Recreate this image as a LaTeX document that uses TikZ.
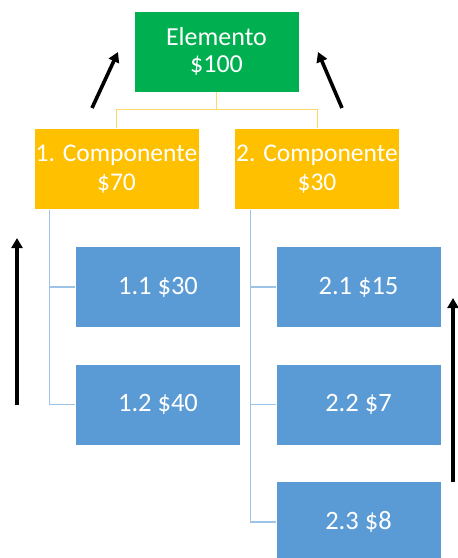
\documentclass[tikz,border=0pt]{standalone}
\usepackage{fontspec}
\setmainfont{Carlito}
\usetikzlibrary{arrows.meta,calc}
\definecolor{topgreen}{HTML}{00B050}
\definecolor{compyellow}{HTML}{FFC000}
\definecolor{itemblue}{HTML}{5B9BD5}
\definecolor{linkyellow}{HTML}{FFD966}
\definecolor{linkblue}{HTML}{9DC3E6}
\begin{document}
\begin{tikzpicture}[x=1pt,y=-1pt,
  box/.style={rectangle, draw=white, line width=0.6pt, text=white, align=center,
    inner sep=0pt, minimum width=165pt, minimum height=81pt},
  topbox/.style={box, fill=topgreen, font=\fontsize{26}{27.7}\selectfont},
  compbox/.style={box, fill=compyellow, font=\fontsize{25.5}{28.4}\selectfont},
  itembox/.style={box, fill=itemblue, font=\fontsize{26.5}{28}\selectfont},
  ylink/.style={draw=linkyellow, line width=1pt},
  blink/.style={draw=linkblue, line width=1.2pt},
  flow/.style={draw=black, line width=3.6pt, -{Triangle[length=10pt,width=11pt]}}]
\useasboundingbox (0,0) rectangle (458,558);

% tree nodes
\node[topbox]  (el)  at (216.5,51.5) {Elemento\\\$100};
\node[compbox] (c1)  at (116.5,169)  {1. Componente\\\$70};
\node[compbox] (c2)  at (317,169)    {2. Componente\\\$30};
\node[itembox] (b11) at (158,287)    {1.1 \$30};
\node[itembox] (b12) at (158,404.5)  {1.2 \$40};
\node[itembox] (b21) at (358.5,287)  {2.1 \$15};
\node[itembox] (b22) at (358.5,404.5){2.2 \$7};
\node[itembox] (b23) at (358.5,522)  {2.3 \$8};

% links from the element to its components
\coordinate (split) at ($(el.south)+(0,17)$);
\draw[ylink] (el.south) -- (split);
\draw[ylink] (split) -| (c1.north);
\draw[ylink] (split) -| (c2.north);

% links from the components to their items
\coordinate (s1) at ($(c1.south west)+(16,0)$);
\coordinate (s2) at ($(c2.south west)+(16,0)$);
\draw[blink] (s1) |- (b11.west);
\draw[blink] (s1) |- (b12.west);
\draw[blink] (s2) |- (b21.west);
\draw[blink] (s2) |- (b22.west);
\draw[blink] (s2) |- (b23.west);

% roll-up arrows
\coordinate (la0) at (17,405);  \coordinate (la1) at (17,238);
\coordinate (ra0) at (453,482); \coordinate (ra1) at (453,298);
\coordinate (da0) at (92,108);  \coordinate (da1) at (118,52);
\coordinate (db0) at (342,108); \coordinate (db1) at (318,52);
\draw[flow] (la0) -- (la1);
\draw[flow] (ra0) -- (ra1);
\draw[flow] (da0) -- (da1);
\draw[flow] (db0) -- (db1);
\end{tikzpicture}
\end{document}
